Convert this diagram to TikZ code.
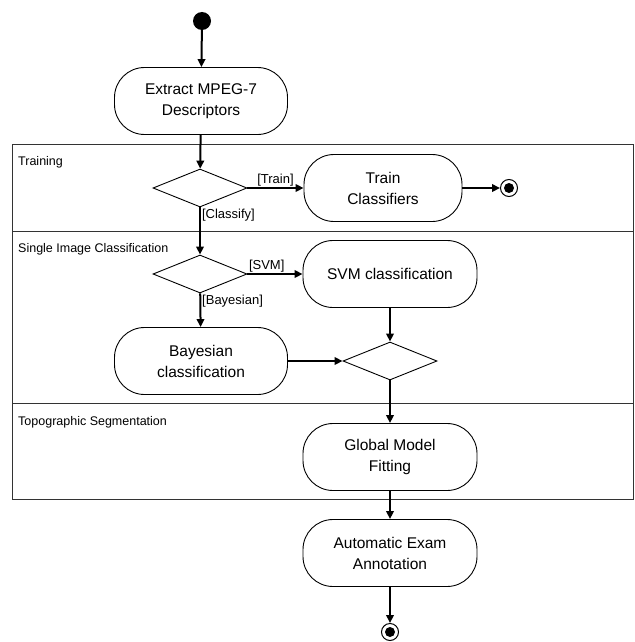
\documentclass[tikz,border=0pt]{standalone}
\usepackage{fontspec}
\setmainfont{Liberation Sans}
\usetikzlibrary{arrows.meta,shapes.geometric}

\begin{document}
\begin{tikzpicture}[x=1pt, y=-1pt, >={Triangle[length=8pt,width=7.5pt]},
  act/.style={draw, line width=0.9pt, rounded corners=30pt, align=center, font=\fontsize{15.5}{21}\selectfont, minimum height=67pt, minimum width=174pt},
  choice/.style={draw, line width=0.9pt, diamond, inner sep=0pt, minimum width=94pt, minimum height=38pt},
  start/.style={circle, fill, inner sep=0pt, minimum size=18pt},
  final/.style={circle, draw, line width=1pt, inner sep=0pt, minimum size=17pt, path picture={\fill (path picture bounding box.center) circle (5pt);}},
  flow/.style={->, line width=2pt},
  guard/.style={font=\fontsize{13}{15}\selectfont, inner sep=1pt},
  lane/.style={font=\fontsize{12.5}{15}\selectfont, anchor=base west, inner sep=0pt}]
\useasboundingbox (0,0) rectangle (634,642);
% swimlanes
\draw[line width=0.8pt, black!80] (12,144) rectangle (633,499);
\draw[line width=0.8pt, black!80] (12,231) -- (633,231);
\draw[line width=0.8pt, black!80] (12,403) -- (633,403);
\node[lane] (ltrain)  at (18,165) {Training};
\node[lane] (lsingle) at (18,252) {Single Image Classification};
\node[lane] (ltopo)   at (18,425) {Topographic Segmentation};
% activities
\node[start] (start) at (202,21) {};
\node[act, minimum width=173pt] (extract) at (201,101) {Extract MPEG-7\\Descriptors};
\node[choice] (dtrain) at (200,188) {};
\node[act, minimum width=158pt] (train) at (383,188) {Train\\Classifiers};
\node[final] (end1) at (509,188) {};
\node[choice] (dclass) at (200,274) {};
\node[act] (svm) at (390,274) {SVM classification};
\node[act, minimum width=173pt] (bayes) at (201,361) {Bayesian\\classification};
\node[choice] (merge) at (390,361) {};
\node[act] (fit) at (390,457) {Global Model\\Fitting};
\node[act] (annot) at (390,553) {Automatic Exam\\Annotation};
\node[final] (end2) at (390,632) {};
% flows
\draw[flow] (start) -- (extract);
\draw[flow] (extract) -- (dtrain);
\draw[flow] (dtrain) -- node[guard, above]{[Train]} (train);
\draw[flow] (train) -- (end1);
\draw[flow] (dtrain) -- node[guard, pos=0, anchor=north west]{[Classify]} (dclass);
\draw[flow] (dclass) -- node[guard, above, pos=0.35]{[SVM]} (svm);
\draw[flow] (dclass) -- node[guard, pos=0, anchor=north west]{[Bayesian]} (bayes);
\draw[flow] (svm) -- (merge);
\draw[flow] (bayes) -- (merge);
\draw[flow] (merge) -- (fit);
\draw[flow] (fit) -- (annot);
\draw[flow] (annot) -- (end2);
\end{tikzpicture}
\end{document}
